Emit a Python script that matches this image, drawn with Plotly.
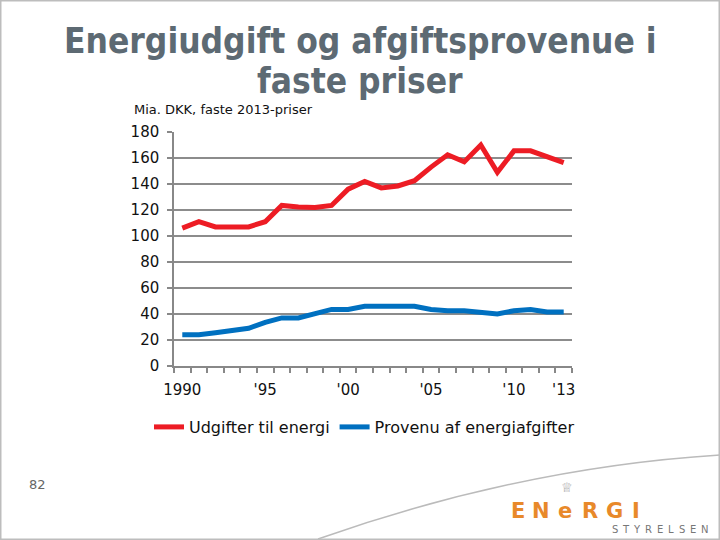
import plotly.graph_objects as go

years = list(range(1990, 2014))
udgifter = [106, 111, 107, 107, 107, 111, 123.5, 122.3, 122, 123.5, 136, 142, 137, 138.5, 142.5,
            153, 162.5, 157, 170, 149, 165.5, 165.5, 161, 156.5]
provenu = [24, 24, 25.5, 27.5, 29, 33.5, 37, 37, 40, 43.5, 43.5, 46, 46, 46, 46,
           43.5, 42.5, 42.5, 41.5, 40, 42.5, 43.5, 41.5, 41.5]
xtick_vals = [1990, 1995, 2000, 2005, 2010, 2013]
xtick_text = ["1990", "'95", "'00", "'05", "'10", "'13"]
series_names = ["Udgifter til energi", "Provenu af energiafgifter"]

W, H = 720, 540
L, R, T, B = 174, 148, 132, 174
PW, PH = W - L - R, H - T - B


def px(x):
    return (x - L) / PW


def py(y):
    return (H - B - y) / PH


fig = go.Figure()
fig.add_trace(go.Scatter(x=years, y=udgifter, mode="lines", name=series_names[0],
                         line=dict(color="#ed1c24", width=5)))
fig.add_trace(go.Scatter(x=years, y=provenu, mode="lines", name=series_names[1],
                         line=dict(color="#0070c0", width=5)))

tick_font = dict(family="DejaVu Sans", size=15, color="#111111")

fig.update_layout(
    width=W, height=H,
    margin=dict(l=L, r=R, t=T, b=B, pad=0, autoexpand=False),
    paper_bgcolor="white", plot_bgcolor="white",
    showlegend=True,
    legend=dict(orientation="h", x=px(149), xanchor="left", y=py(427), yanchor="middle",
                font=dict(family="DejaVu Sans", size=16, color="#111111"),
                bgcolor="rgba(0,0,0,0)", itemwidth=30, tracegroupgap=0),
    xaxis=dict(range=[1989.5, 2013.5], tickvals=xtick_vals, ticktext=xtick_text,
               ticks="", showgrid=False, zeroline=False, tickfont=tick_font,
               ticklabelstandoff=9,
               showline=True, linecolor="#888888", linewidth=1.5,
               minor=dict(tick0=1989.5, dtick=1, ticks="outside", ticklen=5,
                          tickcolor="#888888", tickwidth=1.5, showgrid=False)),
    yaxis=dict(range=[0, 180], dtick=20, ticks="outside", ticklen=5, tickcolor="#888888",
               tickwidth=1.5, showgrid=True, gridcolor="#8c8c8c", gridwidth=1.5,
               zeroline=False, showline=True, linecolor="#888888", linewidth=1.5,
               ticklabelstandoff=5, tickfont=tick_font),
)

title_font = dict(family="DejaVu Sans Condensed", size=35, color="#5d6a73")
fig.add_annotation(text="<b>Energiudgift og afgiftsprovenue i</b>",
                   xref="paper", yref="paper", x=px(360), y=py(41), xanchor="center",
                   yanchor="middle", showarrow=False, font=title_font)
fig.add_annotation(text="<b>faste priser</b>",
                   xref="paper", yref="paper", x=px(360), y=py(81), xanchor="center",
                   yanchor="middle", showarrow=False, font=title_font)
# Subtitle
fig.add_annotation(text="Mia. DKK, faste 2013-priser", xref="paper", yref="paper",
                   x=px(132), y=py(110), xanchor="left", yanchor="middle", showarrow=False,
                   font=dict(family="DejaVu Sans", size=13, color="#111111"))
# Page number
fig.add_annotation(text="82", xref="paper", yref="paper", x=px(27), y=py(484),
                   xanchor="left", yanchor="middle", showarrow=False,
                   font=dict(family="DejaVu Sans", size=13, color="#666666"))

# Logo
logo_letters = ["E", "N", "e", "R", "G", "I"]
logo_x = [518, 541, 565, 590, 614, 636]
for ch, lx in zip(logo_letters, logo_x):
    fig.add_annotation(text="<b>" + ch + "</b>", xref="paper", yref="paper", x=px(lx), y=py(511),
                       xanchor="center", yanchor="middle", showarrow=False,
                       font=dict(family="DejaVu Sans", size=21, color="#e8892a"))
sty = "STYRELSEN"
for i, ch in enumerate(sty):
    fig.add_annotation(text=ch, xref="paper", yref="paper", x=px(615 + i * 11.2), y=py(529),
                       xanchor="center", yanchor="middle", showarrow=False,
                       font=dict(family="DejaVu Sans", size=10, color="#777777"))
fig.add_annotation(text="♕", xref="paper", yref="paper", x=px(567), y=py(487),
                   xanchor="center", yanchor="middle", showarrow=False,
                   font=dict(family="DejaVu Sans", size=13, color="#999999"))

# Decorative curve
curve = "M {} {} C {} {}, {} {}, {} {}".format(px(318), py(539), px(420), py(503),
                                                px(560), py(465), px(720), py(455))
fig.add_shape(type="path", path=curve, xref="paper", yref="paper",
              line=dict(color="#bbbbbb", width=1.5), layer="below")
# Border
fig.add_shape(type="rect", xref="paper", yref="paper", x0=px(0.75), y0=py(539.25),
              x1=px(719.25), y1=py(0.75), line=dict(color="#bdbdbd", width=1.5))

fig.write_html("out.html", config={"displayModeBar": False},
               post_script="document.body.style.margin='0';document.body.style.overflow='hidden';")
